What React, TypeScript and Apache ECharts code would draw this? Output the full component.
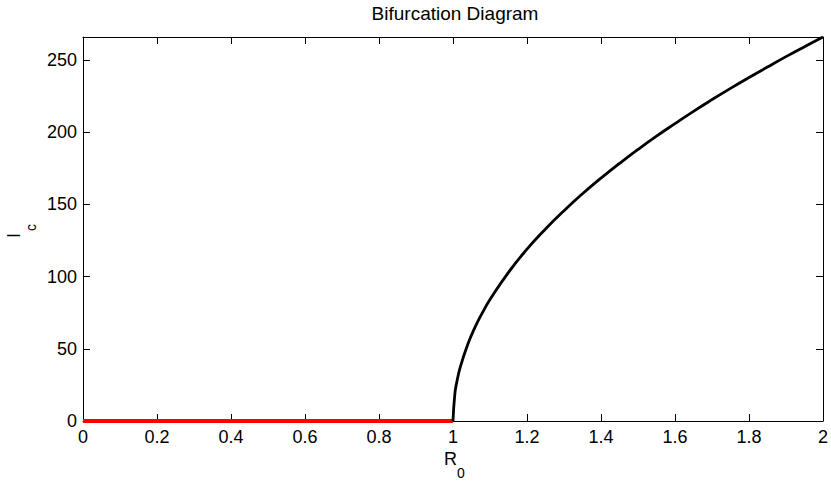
import React, { useEffect, useRef } from "react";
import * as echarts from "echarts";

const TITLE = "Bifurcation Diagram";
// Stable endemic branch: R0 values and I_c values
const r0Branch = [1.0, 1.005, 1.01, 1.02, 1.04, 1.06, 1.08, 1.1, 1.15, 1.2, 1.25, 1.3, 1.35, 1.4, 1.45, 1.5, 1.55, 1.6, 1.65, 1.7, 1.75, 1.8, 1.85, 1.9, 1.95, 2.0];
const icBranch = [0, 18.8, 26.6, 37.6, 53.2, 65.2, 75.2, 84.1, 103, 119, 133, 145.7, 157.4, 168.2, 178.4, 188.1, 197.3, 206.0, 214.5, 222.6, 230.4, 237.9, 245.2, 252.4, 259.3, 266];
// Disease-free branch (red)
const r0Free = [0, 1];
const icFree = [0, 0];

const X_MIN = 0;
const X_MAX = 2;
const X_STEP = 0.2;
const Y_MIN = 0;
const Y_MAX = 266;
const Y_STEP = 50;

const FONT = "'Liberation Sans', Arial, Helvetica, sans-serif";
const FS = 18;

export default function App() {
  const ref = useRef<HTMLDivElement>(null);
  useEffect(() => {
    if (!ref.current) return;
    const chart = echarts.init(ref.current, undefined, { renderer: "svg" });
    const gridL = 83, gridT = 37, gridW = 744, gridH = 384;
    const axisCommon = {
      axisLine: { show: true, onZero: false, lineStyle: { color: "#000", width: 1 } },
      axisTick: { show: true, inside: true, length: 7, lineStyle: { color: "#000", width: 1 } },
      splitLine: { show: false },
    };
    chart.setOption({
      animation: false,
      backgroundColor: "#fff",
      textStyle: { fontFamily: FONT },
      title: {
        text: TITLE,
        left: gridL + gridW / 2,
        top: 4,
        padding: 0,
        textAlign: "center",
        textStyle: { fontSize: 19, fontWeight: "normal", color: "#000", fontFamily: FONT },
      },
      grid: { left: gridL, top: gridT, width: gridW, height: gridH, containLabel: false },
      xAxis: [
        {
          type: "value",
          min: X_MIN,
          max: X_MAX,
          interval: X_STEP,
          position: "bottom",
          ...axisCommon,
          axisLabel: { color: "#000", fontSize: FS, margin: 7, fontFamily: FONT, formatter: (v: number) => String(+v.toFixed(1)) },
        },
        {
          type: "value",
          min: X_MIN,
          max: X_MAX,
          interval: X_STEP,
          position: "top",
          ...axisCommon,
          axisLabel: { show: false },
        },
      ],
      yAxis: [
        {
          type: "value",
          min: Y_MIN,
          max: Y_MAX,
          interval: Y_STEP,
          position: "left",
          ...axisCommon,
          axisLabel: { color: "#000", fontSize: FS, margin: 6, fontFamily: FONT, showMaxLabel: false },
        },
        {
          type: "value",
          min: Y_MIN,
          max: Y_MAX,
          interval: Y_STEP,
          position: "right",
          ...axisCommon,
          axisLabel: { show: false },
        },
      ],
      series: [
        {
          type: "line",
          data: r0Free.map((x, i) => [x, icFree[i]]),
          showSymbol: false,
          symbol: "none",
          clip: false,
          lineStyle: { color: "#ff0000", width: 4 },
          z: 3,
        },
        {
          type: "line",
          data: r0Branch.map((x, i) => [x, icBranch[i]]),
          showSymbol: false,
          symbol: "none",
          smooth: true,
          clip: false,
          lineStyle: { color: "#000", width: 2.8 },
          z: 4,
        },
      ],
      graphic: [
        { type: "text", left: 444, top: 450, style: { text: "R", fontSize: FS, fill: "#000", fontFamily: FONT } },
        { type: "text", left: 457, top: 466, style: { text: "0", fontSize: 14, fill: "#000", fontFamily: FONT } },
        { type: "text", x: 5, y: 238, rotation: Math.PI / 2, style: { text: "I", fontSize: FS, fill: "#000", fontFamily: FONT } },
        { type: "text", x: 24, y: 231, rotation: Math.PI / 2, style: { text: "c", fontSize: 14, fill: "#000", fontFamily: FONT } },
      ],
    });
    return () => chart.dispose();
  }, []);
  return <div ref={ref} style={{ position: "absolute", left: 0, top: 0, width: 831, height: 481 }} />;
}
